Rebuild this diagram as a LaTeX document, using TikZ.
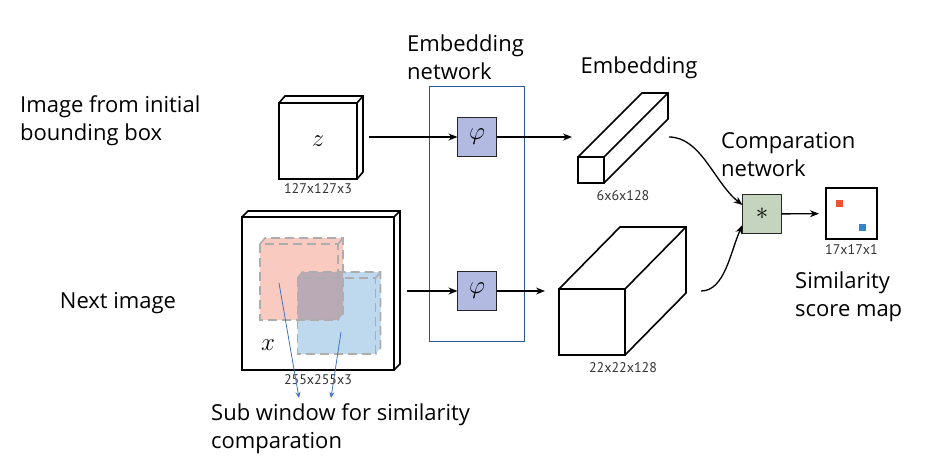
\documentclass[tikz,border=0pt]{standalone}
\usepackage{fontspec}
\setmainfont{Open Sans}
\newfontfamily\dimfont{PT Sans}
\usepackage{tikz}
\usetikzlibrary{arrows.meta, positioning, fit, calc}
\definecolor{phiblue}{RGB}{178,186,226}
\definecolor{compgreen}{RGB}{196,212,190}
\definecolor{winred}{RGB}{248,202,192}
\definecolor{winblue}{RGB}{190,216,238}
\definecolor{winmix}{RGB}{186,170,182}
\definecolor{framecol}{RGB}{47,85,151}
\definecolor{arrblue}{RGB}{68,114,196}
\definecolor{mapred}{RGB}{236,84,52}
\definecolor{mapblue}{RGB}{52,132,200}

\begin{document}
\begin{tikzpicture}[x=1pt, y=-1pt,
    cube/.style={draw, line width=1.6pt, fill=white, inner sep=0pt, outer sep=0pt},
    cubeline/.style={line width=1.6pt, line join=miter},
    embed/.style={draw=black!85, line width=1.4pt, fill=phiblue, minimum size=39pt, inner sep=0pt, outer sep=0pt},
    win/.style={inner sep=0pt, outer sep=0pt, minimum width=78pt, minimum height=76pt},
    windash/.style={draw=black!32, line width=1.6pt, dash pattern=on 9pt off 5pt},
    dot/.style={inner sep=0pt, minimum size=7pt},
    dimlabel/.style={font=\dimfont\fontsize{14}{16}\selectfont, text=black!80, inner sep=0pt},
    caption/.style={font=\fontsize{22}{28}\selectfont, align=left, inner sep=0pt},
    arr/.style={-{Stealth[length=9pt, width=7pt]}, line width=1.3pt},
    subarr/.style={-{Stealth[length=6pt, width=5pt]}, draw=arrblue, line width=0.8pt}
]
\useasboundingbox (0,0) rectangle (926,475);

% input images
\node[cube, minimum width=78pt, minimum height=76pt] (zimg) at (318,141) {\fontsize{28}{28}\selectfont$z$};
\draw[cubeline] (zimg.north west) -- ++(6,-7) -- ++(78,0) -- ++(0,76) -- (zimg.south east)
    (zimg.north east) -- ++(6,-7);
\node[dimlabel, below=4pt of zimg] (zdim) {127x127x3};

\node[cube, minimum width=152pt, minimum height=153pt] (ximg) at (318,293.5) {};
\draw[cubeline] (ximg.north west) -- ++(6,-6) -- ++(152,0) -- ++(0,153) -- (ximg.south east)
    (ximg.north east) -- ++(6,-6);
\node[inner sep=0pt] (xname) at ([shift={(26,-25)}]ximg.south west) {\fontsize{28}{28}\selectfont$x$};
\node[dimlabel, below=4pt of ximg] (xdim) {255x255x3};

% sub windows
\node[win] (redwin) at (299,282) {};
\node[win] (bluewin) at (336.5,316) {};
\fill[winred] (redwin.south west) -- (redwin.north west) -- ++(5,-6) -- ++(78,0) -- ++(0,76) -- (redwin.south east) -- cycle;
\fill[winblue] (bluewin.south west) -- (bluewin.north west) -- ++(5,-6) -- ++(78,0) -- ++(0,76) -- (bluewin.south east) -- cycle;
\begin{scope}
  \clip (redwin.south west) -- (redwin.north west) -- ++(5,-6) -- ++(78,0) -- ++(0,76) -- (redwin.south east) -- cycle;
  \fill[winmix] (bluewin.south west) -- (bluewin.north west) -- ++(5,-6) -- ++(78,0) -- ++(0,76) -- (bluewin.south east) -- cycle;
\end{scope}
\foreach \w in {redwin, bluewin} {
  \draw[windash] (\w.north west) rectangle (\w.south east);
  \draw[windash] (\w.north west) -- ++(5,-6) -- ++(78,0) -- ++(0,76) -- (\w.south east)
      (\w.north east) -- ++(5,-6);
}

% embedding network
\node[embed] (phi1) at (477,137) {\fontsize{24}{24}\selectfont$\varphi$};
\node[embed] (phi2) at (477,291) {\fontsize{24}{24}\selectfont$\varphi$};
\node[draw=framecol, line width=0.8pt, inner xsep=28pt, inner ysep=31pt, fit=(phi1)(phi2)] (embnet) {};

% embeddings
\node[cube, minimum width=26pt, minimum height=26pt] (emb1) at (591,170) {};
\draw[cubeline] (emb1.north west) -- ++(64,-64) -- ++(26,0) -- ++(0,26) -- (emb1.south east)
    (emb1.north east) -- ++(64,-64);
\node[dimlabel, below=7pt of emb1, xshift=32pt] (emb1dim) {6x6x128};

\node[cube, minimum width=66pt, minimum height=66pt] (emb2) at (592,322) {};
\draw[cubeline] (emb2.north west) -- ++(61,-62) -- ++(66,0) -- ++(0,66) -- (emb2.south east)
    (emb2.north east) -- ++(61,-62);
\node[dimlabel, below=7pt of emb2, xshift=31pt] (emb2dim) {22x22x128};

% comparation and score map
\node[embed, fill=compgreen] (comp) at (762,214) {\fontsize{26}{26}\selectfont$\ast$};
\node[cube, line width=1.5pt, minimum size=51pt] (map) at (851.5,213.5) {};
\node[dot, fill=mapred] (mapdot1) at ([shift={(-12,-10)}]map.center) {};
\node[dot, fill=mapblue] (mapdot2) at ([shift={(11,14)}]map.center) {};
\node[dimlabel, below=5pt of map] (mapdim) {17x17x1};

% connectors
\draw[arr, shorten <=12pt] (zimg.east |- phi1.west) -- (phi1.west);
\draw[arr, shorten >=6pt] (phi1.east) -- (phi1.east -| emb1.west);
\draw[arr, shorten <=13pt] (ximg.east |- phi2.west) -- (phi2.west);
\draw[arr, shorten >=14pt] (phi2.east) -- (phi2.east -| emb2.west);
\draw[arr] ([shift={(65,-33)}]emb1.east) .. controls +(32,0) and +(-28,-22) .. ([shift={(0,-9)}]comp.west);
\draw[arr] ([shift={(76,-31)}]emb2.east) .. controls +(24,0) and +(-12,26) .. ([shift={(0,11)}]comp.west);
\draw[arr, shorten >=7pt] (comp) -- (map);

\coordinate (tip1) at (299,398);
\coordinate (tip2) at (331,398);
\draw[subarr] ([shift={(-20,1)}]redwin.center) -- (tip1);
\draw[subarr] ([shift={(4.5,16)}]bluewin.center) -- (tip2);

% captions
\node[caption, anchor=west] (imgtxt) at (20,121) {Image from initial\\bounding box};
\node[caption] (nexttxt) at (118,303) {Next image};
\node[caption, anchor=west] (embnettxt) at (407,57) {Embedding\\network};
\node[caption] (embtxt) at (639,68) {Embedding};
\node[caption, anchor=west] (comptxt) at (721,155) {Comparation\\network};
\node[caption, anchor=west] (simtxt) at (795,297) {Similarity\\score map};
\node[caption, anchor=west] (subtxt) at (211,429) {Sub window for similarity\\comparation};
\end{tikzpicture}
\end{document}
